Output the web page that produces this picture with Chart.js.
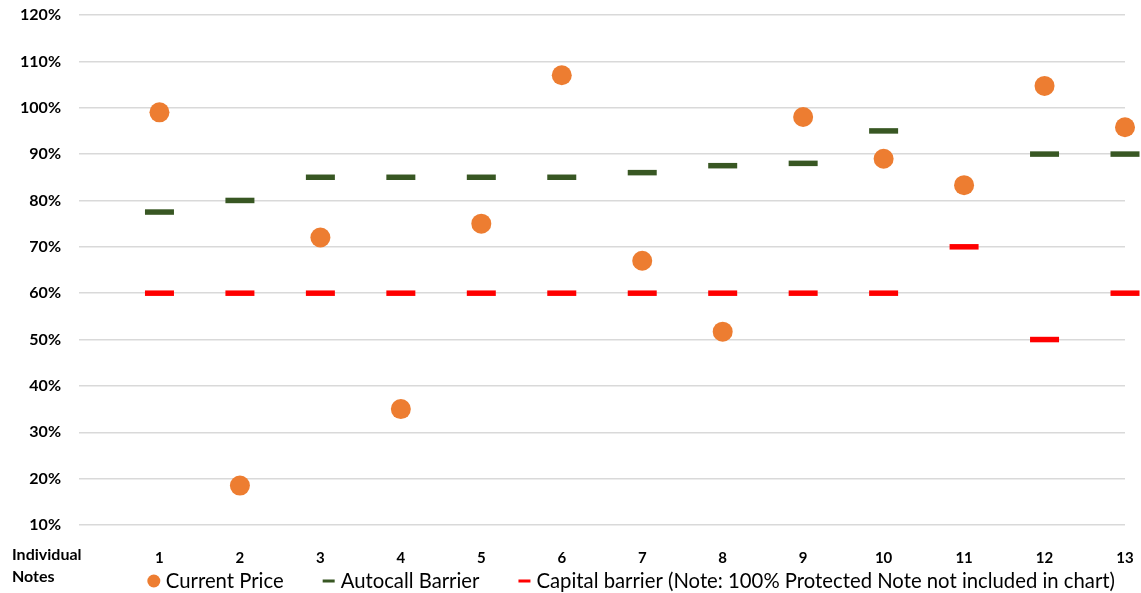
<!DOCTYPE html>
<html>
<head>
<meta charset="utf-8">
<script src="https://cdn.jsdelivr.net/npm/chart.js@4"></script>
<style>
  html, body { margin: 0; padding: 0; background: #fff; }
  #wrap { width: 1141px; height: 593px; }
</style>
</head>
<body>
<div id="wrap"><canvas id="notesChart"></canvas></div>
<script>
const notes = [1, 2, 3, 4, 5, 6, 7, 8, 9, 10, 11, 12, 13];
const currentPrice = [99, 18.5, 72, 35, 75, 107, 67, 51.7, 98, 89, 83.3, 104.7, 95.8];
const autocallBarrier = [77.5, 80, 85, 85, 85, 85, 86, 87.5, 88, 95, null, 90, 90];
const capitalBarrier = [60, 60, 60, 60, 60, 60, 60, 60, 60, 60, 70, 50, 60];

const FONT = "Lato, 'Open Sans', sans-serif";

function toPoints(values) {
  return notes.map((n, i) => ({ x: n, y: values[i] }));
}

// "Individual Notes" label under the y axis
const axisNote = {
  id: "axisNote",
  afterDraw(chart) {
    const ctx = chart.ctx;
    ctx.save();
    ctx.font = "bold 16px " + FONT;
    ctx.fillStyle = "#000";
    ctx.textBaseline = "middle";
    ctx.fillText("Individual", 12, 555);
    ctx.fillText("Notes", 12, 577);
    ctx.restore();
  }
};

// legend drawn by hand so spacing can follow the original
const bottomLegend = {
  id: "bottomLegend",
  afterDraw(chart) {
    const ctx = chart.ctx;
    const y = 581;
    const gap = 39;
    ctx.save();
    ctx.font = "20.3px " + FONT;
    ctx.textBaseline = "middle";
    const items = chart.data.datasets.map((ds) => ({
      text: ds.label,
      color: ds.borderColor,
      style: ds.pointStyle,
      w: ctx.measureText(ds.label).width,
    }));
    let total = 0;
    items.forEach((it, i) => { total += 12 + 6 + it.w + (i ? gap : 0); });
    let x = chart.chartArea.right - 10 - total;
    items.forEach((it) => {
      ctx.fillStyle = it.color;
      if (it.style === "circle") {
        ctx.beginPath();
        ctx.arc(x + 6, y, 6.5, 0, Math.PI * 2);
        ctx.fill();
      } else {
        ctx.fillRect(x, y - 1.5, 12, 3);
      }
      ctx.fillStyle = "#000";
      ctx.fillText(it.text, x + 18, y);
      x += 18 + it.w + gap;
    });
    ctx.restore();
  }
};

const chart = new Chart(document.getElementById("notesChart").getContext("2d"), {
  type: "scatter",
  data: {
    datasets: [
      {
        label: "Current Price",
        data: toPoints(currentPrice),
        pointStyle: "circle",
        pointRadius: 10,
        pointBackgroundColor: "#ED7D31",
        pointBorderColor: "#ED7D31",
        pointBorderWidth: 0,
        backgroundColor: "#ED7D31",
        borderColor: "#ED7D31",
        clip: false,
      },
      {
        label: "Autocall Barrier",
        data: toPoints(autocallBarrier),
        pointStyle: "line",
        pointRadius: 14.5,
        pointBorderWidth: 5.5,
        pointBorderColor: "#385723",
        borderColor: "#385723",
        backgroundColor: "#385723",
        clip: false,
      },
      {
        label: "Capital barrier (Note: 100% Protected Note not included in chart)",
        data: toPoints(capitalBarrier),
        pointStyle: "line",
        pointRadius: 14.5,
        pointBorderWidth: 5.5,
        pointBorderColor: "#FF0000",
        borderColor: "#FF0000",
        backgroundColor: "#FF0000",
        clip: false,
      },
    ],
  },
  options: {
    responsive: true,
    maintainAspectRatio: false,
    animation: false,
    layout: { autoPadding: false, padding: { top: 15, right: 16, left: 0, bottom: 28 } },
    scales: {
      x: {
        type: "linear",
        min: 0,
        max: 13,
        grid: { display: false },
        border: { display: false },
        ticks: {
          stepSize: 1,
          padding: 16,
          color: "#000",
          font: { family: FONT, size: 15, weight: "bold" },
          callback: (v) => (v === 0 ? "" : v),
        },
        afterFit(scale) {
          scale.height = 40;
          scale.paddingLeft = 0;
          scale.paddingRight = 0;
        },
      },
      y: {
        min: 10,
        max: 120,
        grid: { color: "#D9D9D9", lineWidth: 1.5, drawTicks: false },
        border: { display: false },
        ticks: {
          stepSize: 10,
          padding: 18,
          color: "#000",
          font: { family: FONT, size: 16, weight: "bold" },
          callback: (v) => v + "%",
        },
        afterFit(scale) {
          scale.width = 79;
          scale.paddingTop = 0;
          scale.paddingBottom = 0;
        },
      },
    },
    plugins: {
      tooltip: { enabled: false },
      legend: { display: false },
    },
  },
  plugins: [axisNote, bottomLegend],
});
</script>
</body>
</html>
